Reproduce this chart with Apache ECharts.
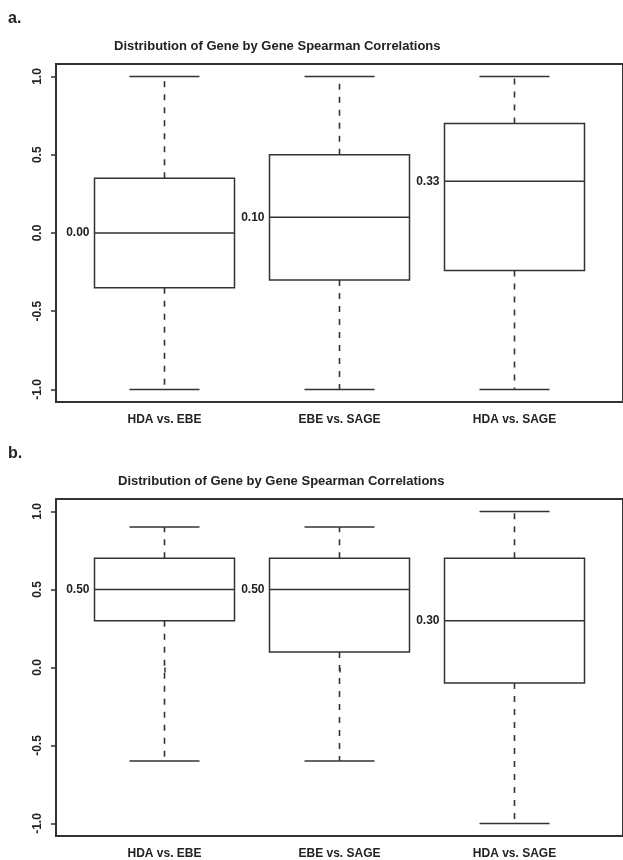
<!DOCTYPE html>
<html>
<head>
<meta charset="utf-8">
<script src="https://cdn.jsdelivr.net/npm/echarts@6/dist/echarts.min.js"></script>
<style>
  html, body { margin: 0; padding: 0; background: #fff; }
  #main { width: 623px; height: 860px; }
</style>
</head>
<body>
<div id="main"></div>
<script>
var categories = ['HDA vs. EBE', 'EBE vs. SAGE', 'HDA vs. SAGE'];
var chartTitle = 'Distribution of Gene by Gene Spearman Correlations';
var yTicks = [-1, -0.5, 0, 0.5, 1];

// [lower whisker, Q1, median, Q3, upper whisker]
var panelA = [
    [-1, -0.35, 0.00, 0.35, 1],
    [-1, -0.30, 0.10, 0.50, 1],
    [-1, -0.24, 0.33, 0.70, 1]
];
var panelB = [
    [-0.6, 0.30, 0.50, 0.70, 0.9],
    [-0.6, 0.10, 0.50, 0.70, 0.9],
    [-1.0, -0.10, 0.30, 0.70, 1.0]
];

var lineColor = '#333';
var textColor = '#222';
var fontName = 'Liberation Sans';

function toRows(stats) {
    return stats.map(function (s, i) {
        return [i + 1].concat(s);
    });
}

function renderBox(params, api) {
    var x = api.value(0);
    var low = api.coord([x, api.value(1)]);
    var q1 = api.coord([x, api.value(2)]);
    var med = api.coord([x, api.value(3)]);
    var q3 = api.coord([x, api.value(4)]);
    var high = api.coord([x, api.value(5)]);
    var cx = med[0];
    var halfBox = api.size([0.4, 0])[0];
    var halfCap = api.size([0.2, 0])[0];
    var solid = { stroke: lineColor, lineWidth: 1.5, fill: null };
    var dashed = { stroke: lineColor, lineWidth: 1.6, lineDash: [6, 7], fill: null };
    return {
        type: 'group',
        children: [
            { type: 'line', shape: { x1: cx, y1: q3[1], x2: cx, y2: high[1] }, style: dashed },
            { type: 'line', shape: { x1: cx, y1: q1[1], x2: cx, y2: low[1] }, style: dashed },
            { type: 'line', shape: { x1: cx - halfCap, y1: high[1], x2: cx + halfCap, y2: high[1] }, style: solid },
            { type: 'line', shape: { x1: cx - halfCap, y1: low[1], x2: cx + halfCap, y2: low[1] }, style: solid },
            { type: 'rect', shape: { x: cx - halfBox, y: q3[1], width: halfBox * 2, height: q1[1] - q3[1] },
              style: { stroke: lineColor, lineWidth: 1.5, fill: '#fff' } },
            { type: 'line', shape: { x1: cx - halfBox, y1: med[1], x2: cx + halfBox, y2: med[1] }, style: solid },
            { type: 'text', x: cx - halfBox - 5, y: med[1],
              style: { text: api.value(3).toFixed(2), align: 'right', verticalAlign: 'middle',
                       fill: textColor, font: 'bold 12px ' + fontName } }
        ]
    };
}

function makeX(idx) {
    return {
        type: 'value', gridIndex: idx, min: 0.38, max: 3.62,
        splitLine: { show: false },
        axisLine: { show: false },
        axisTick: { show: true, length: 5, customValues: [1, 2, 3],
                    lineStyle: { color: lineColor, width: 1.5 } },
        axisLabel: { customValues: [1, 2, 3], margin: 12, color: textColor,
                     fontWeight: 'bold', fontSize: 12, fontFamily: fontName,
                     formatter: function (v) { return categories[Math.round(v) - 1]; } }
    };
}

function makeY(idx) {
    return {
        type: 'value', gridIndex: idx, min: -1.08, max: 1.08,
        splitLine: { show: false },
        axisLine: { show: false },
        axisTick: { show: true, length: 5, customValues: yTicks,
                    lineStyle: { color: lineColor, width: 1.5 } },
        axisLabel: { customValues: yTicks, rotate: 90, margin: 12, color: textColor,
                     fontWeight: 'bold', fontSize: 12, fontFamily: fontName,
                     formatter: function (v) { return v.toFixed(1); } }
    };
}

var myChart = echarts.init(document.getElementById('main'));

myChart.setOption({
    backgroundColor: '#fff',
    animation: false,
    title: [
        { text: 'a.', left: 8, top: 11, padding: 0,
          textStyle: { fontSize: 16, fontWeight: 'bold', color: textColor, fontFamily: fontName } },
        { text: chartTitle, left: 114, top: 40, padding: 0,
          textStyle: { fontSize: 13, fontWeight: 'bold', color: textColor, fontFamily: fontName } },
        { text: 'b.', left: 8, top: 446, padding: 0,
          textStyle: { fontSize: 16, fontWeight: 'bold', color: textColor, fontFamily: fontName } },
        { text: chartTitle, left: 118, top: 475, padding: 0,
          textStyle: { fontSize: 13, fontWeight: 'bold', color: textColor, fontFamily: fontName } }
    ],
    grid: [
        { left: 56, top: 64, width: 574, height: 338, show: true,
          borderColor: lineColor, borderWidth: 2, backgroundColor: 'transparent' },
        { left: 56, top: 499, width: 574, height: 338, show: true,
          borderColor: lineColor, borderWidth: 2, backgroundColor: 'transparent' }
    ],
    xAxis: [makeX(0), makeX(1)],
    yAxis: [makeY(0), makeY(1)],
    series: [
        { type: 'custom', xAxisIndex: 0, yAxisIndex: 0, renderItem: renderBox,
          encode: { x: 0, y: [1, 2, 3, 4, 5] }, data: toRows(panelA) },
        { type: 'custom', xAxisIndex: 1, yAxisIndex: 1, renderItem: renderBox,
          encode: { x: 0, y: [1, 2, 3, 4, 5] }, data: toRows(panelB) }
    ]
});
</script>
</body>
</html>
